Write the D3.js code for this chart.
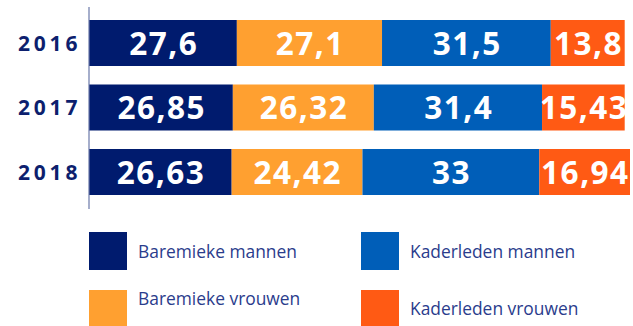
<!DOCTYPE html>
<html>
<head>
<meta charset="utf-8">
<script src="https://cdn.jsdelivr.net/npm/d3@7"></script>
<style>
  html, body { margin: 0; padding: 0; background: #fff; }
  svg { display: block; }
</style>
</head>
<body>
<svg id="chart" width="633" height="326"></svg>
<script>
// Years on the vertical axis
const years = ["2016", "2017", "2018"];
// Staff groups, stacked left to right
const groups = ["Baremieke mannen", "Baremieke vrouwen", "Kaderleden mannen", "Kaderleden vrouwen"];
// Share (%) per group, one value per year
const baremiekeMannen  = [27.6, 26.85, 26.63];
const baremiekeVrouwen = [27.1, 26.32, 24.42];
const kaderledenMannen = [31.5, 31.4, 33];
const kaderledenVrouwen = [13.8, 15.43, 16.94];

const colors = ["#001B6E", "#FFA030", "#005EB8", "#FF5A14"];
const series = [baremiekeMannen, baremiekeVrouwen, kaderledenMannen, kaderledenVrouwen];

const rows = years.map((y, i) => {
  const r = { year: y };
  groups.forEach((g, j) => { r[g] = series[j][i]; });
  return r;
});

const svg = d3.select("#chart");

const stacked = d3.stack().keys(groups)(rows);
const maxTotal = d3.max(stacked[stacked.length - 1], d => d[1]);

const x = d3.scaleLinear().domain([0, Math.max(100, maxTotal)]).range([89, 630]);
const yScale = d3.scaleBand()
  .domain(years)
  .range([10.75, 204.25])
  .paddingInner(18.5 / 64.5)
  .paddingOuter(18.5 / 64.5 / 2);

const fmt = v => String(v).replace(".", ",");

const layers = svg.append("g")
  .selectAll("g")
  .data(stacked)
  .join("g")
  .attr("fill", (d, i) => colors[i]);

layers.selectAll("rect")
  .data(d => d)
  .join("rect")
  .attr("x", d => x(d[0]))
  .attr("y", d => yScale(d.data.year))
  .attr("width", d => x(d[1]) - x(d[0]))
  .attr("height", yScale.bandwidth());

// Value labels inside each segment
const labelLS = 1.5;
svg.append("g")
  .selectAll("g")
  .data(stacked)
  .join("g")
  .selectAll("text")
  .data(d => d.map(s => ({ s, key: d.key })))
  .join("text")
  .attr("x", d => (x(d.s[0]) + x(d.s[1])) / 2 + labelLS / 2)
  .attr("y", d => yScale(d.s.data.year) + yScale.bandwidth() / 2 + 11.5)
  .attr("text-anchor", "middle")
  .attr("font-family", "'Open Sans', sans-serif")
  .attr("font-weight", 700)
  .attr("font-size", 31.5)
  .attr("letter-spacing", labelLS)
  .attr("fill", "#fff")
  .text(d => fmt(d.s.data[d.key]));

// Vertical axis line
svg.append("line")
  .attr("x1", 89).attr("x2", 89)
  .attr("y1", 7).attr("y2", 209)
  .attr("stroke", "#6A78A8")
  .attr("stroke-width", 1.2);

// Year labels
svg.append("g")
  .selectAll("text")
  .data(years)
  .join("text")
  .attr("x", 18)
  .attr("y", d => yScale(d) + yScale.bandwidth() / 2 + 7.5)
  .attr("font-family", "'Open Sans', sans-serif")
  .attr("font-weight", 700)
  .attr("font-size", 21)
  .attr("letter-spacing", 3.8)
  .attr("fill", "#0D1F6E")
  .text(d => d);

// Legend: two columns, two rows
const legendPos = [
  { x: 89, y: 232, ty: 258 },
  { x: 89, y: 290, ty: 305 },
  { x: 361, y: 232, ty: 258 },
  { x: 361, y: 290, ty: 315 }
];
const legend = svg.append("g")
  .selectAll("g")
  .data(groups)
  .join("g");

legend.append("rect")
  .attr("x", (d, i) => legendPos[i].x)
  .attr("y", (d, i) => legendPos[i].y)
  .attr("width", 38)
  .attr("height", 38)
  .attr("fill", (d, i) => colors[i]);

legend.append("text")
  .attr("x", (d, i) => legendPos[i].x + 49)
  .attr("y", (d, i) => legendPos[i].ty)
  .attr("font-family", "'Open Sans', sans-serif")
  .attr("font-size", 17.4)
  .attr("fill", "#2A3C8C")
  .text(d => d);
</script>
</body>
</html>
